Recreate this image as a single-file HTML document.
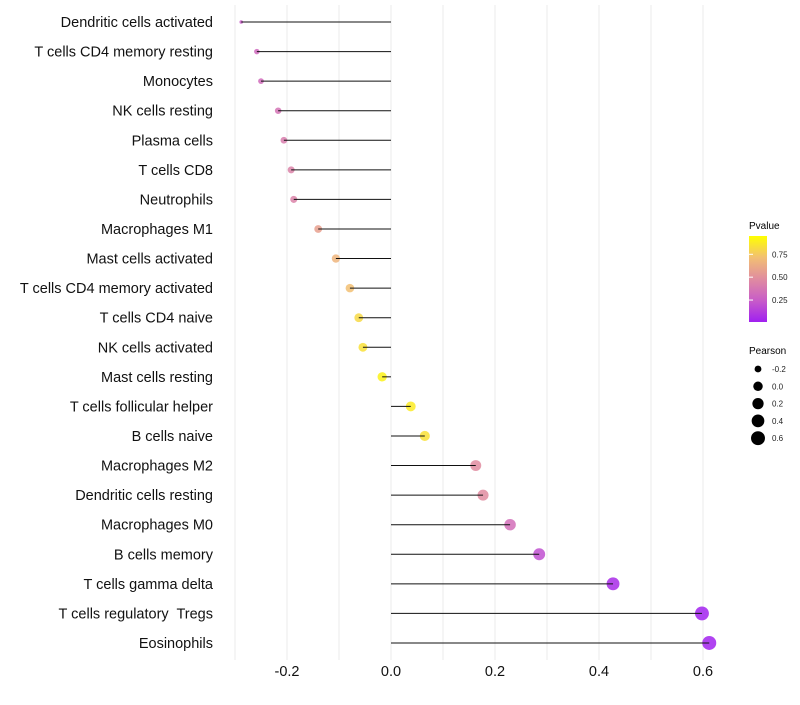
<!DOCTYPE html>
<html><head><meta charset="utf-8"><style>
body{margin:0;background:#fff;font-family:"Liberation Sans",sans-serif}
svg text{font-family:"Liberation Sans",sans-serif;white-space:pre}
</style></head><body>
<svg id="chart" width="800" height="700">
<g id="grid"></g>
<g id="marks"></g>
<g id="ylab"></g>
<g id="xlab"></g>
<g id="legend">
<defs><linearGradient id="pg" x1="0" y1="1" x2="0" y2="0">
<stop offset="0" stop-color="#a020f0"/><stop offset="0.25" stop-color="#c85cc8"/><stop offset="0.5" stop-color="#e08ca0"/><stop offset="0.75" stop-color="#f2bf73"/><stop offset="1" stop-color="#ffff00"/></linearGradient></defs>
<text x="749" y="229" font-size="10">Pvalue</text>
<rect x="749" y="236" width="18" height="86" fill="url(#pg)"/>
</g>
</svg>
<script>
const categories=["Dendritic cells activated","T cells CD4 memory resting","Monocytes","NK cells resting","Plasma cells","T cells CD8","Neutrophils","Macrophages M1","Mast cells activated","T cells CD4 memory activated","T cells CD4 naive","NK cells activated","Mast cells resting","T cells follicular helper","B cells naive","Macrophages M2","Dendritic cells resting","Macrophages M0","B cells memory","T cells gamma delta","T cells regulatory  Tregs","Eosinophils"];
const pearson=[-0.288,-0.258,-0.25,-0.217,-0.206,-0.192,-0.187,-0.14,-0.106,-0.079,-0.062,-0.054,-0.017,0.038,0.065,0.163,0.177,0.229,0.285,0.427,0.598,0.612];
const pvalue=[0.25,0.32,0.33,0.37,0.42,0.45,0.45,0.6,0.7,0.75,0.85,0.88,0.95,0.92,0.88,0.5,0.5,0.35,0.2,0.05,0.01,0.01];
const xTicks=[-0.2,0.0,0.2,0.4,0.6];
const xTickLabels=["-0.2","0.0","0.2","0.4","0.6"];
const sizeBreaks=[-0.2,0.0,0.2,0.4,0.6];
const colorBreaks=[0.25,0.5,0.75];
const NS="http://www.w3.org/2000/svg";
const x=v=>391+v*520;
const y=i=>22+i*29.57;
const pmin=Math.min(...pearson),pmax=Math.max(...pearson);
const r=v=>1.8+5.2*Math.sqrt(Math.max(0,(v-pmin)/(pmax-pmin)));
const stops=[[0,[160,32,240]],[0.25,[200,92,200]],[0.5,[224,140,160]],[0.75,[242,191,115]],[1,[255,255,0]]];
function col(p){for(let k=1;k<stops.length;k++){if(p<=stops[k][0]){const a=stops[k-1],b=stops[k],t=(p-a[0])/(b[0]-a[0]);return "rgb("+a[1].map((c,j)=>Math.round(c+(b[1][j]-c)*t)).join(",")+")";}}return "rgb(255,255,0)";}
function mk(tag,attrs,parent){const e=document.createElementNS(NS,tag);for(const k in attrs)e.setAttribute(k,attrs[k]);parent.appendChild(e);return e;}
const grid=document.getElementById('grid'),marks=document.getElementById('marks'),ylab=document.getElementById('ylab'),xlab=document.getElementById('xlab'),leg=document.getElementById('legend');
for(let v=-0.3;v<=0.61;v+=0.1){const g=mk('line',{x1:x(v),x2:x(v),y1:5,y2:660,stroke:'#ebebeb','stroke-width':1},grid);

}
categories.forEach((c,i)=>{
const pt=mk('circle',{cx:x(pearson[i]),cy:y(i),r:r(pearson[i]),fill:col(pvalue[i]),'fill-opacity':0.85},marks);


const ln=mk('line',{x1:x(0),x2:x(pearson[i]),y1:y(i),y2:y(i),stroke:'#111','stroke-width':1},marks);


const t=mk('text',{x:213,y:y(i)+5,'text-anchor':'end','font-size':14.5,fill:'#111'},ylab);t.textContent=c;


});
xTicks.forEach((v,i)=>{const t=mk('text',{x:x(v),y:676,'text-anchor':'middle','font-size':14.5,fill:'#111'},xlab);t.textContent=xTickLabels[i];

});
colorBreaks.forEach(b=>{const yy=322-(b-0.01)/(0.95-0.01)*86;
const tk=mk('line',{x1:749,x2:753,y1:yy,y2:yy,stroke:'#fff'},leg);


const t=mk('text',{x:772,y:yy+3,'font-size':8,fill:'#222'},leg);t.textContent=b.toFixed(2);

});
const st=mk('text',{x:749,y:354,'font-size':10},leg);st.textContent='Pearson';


sizeBreaks.forEach((b,i)=>{const yy=369+i*17.3;
const c=mk('circle',{cx:758,cy:yy,r:r(b),fill:'#000'},leg);


const t=mk('text',{x:772,y:yy+3,'font-size':8,fill:'#222'},leg);t.textContent=b.toFixed(1);

});
</script>
</body></html>
